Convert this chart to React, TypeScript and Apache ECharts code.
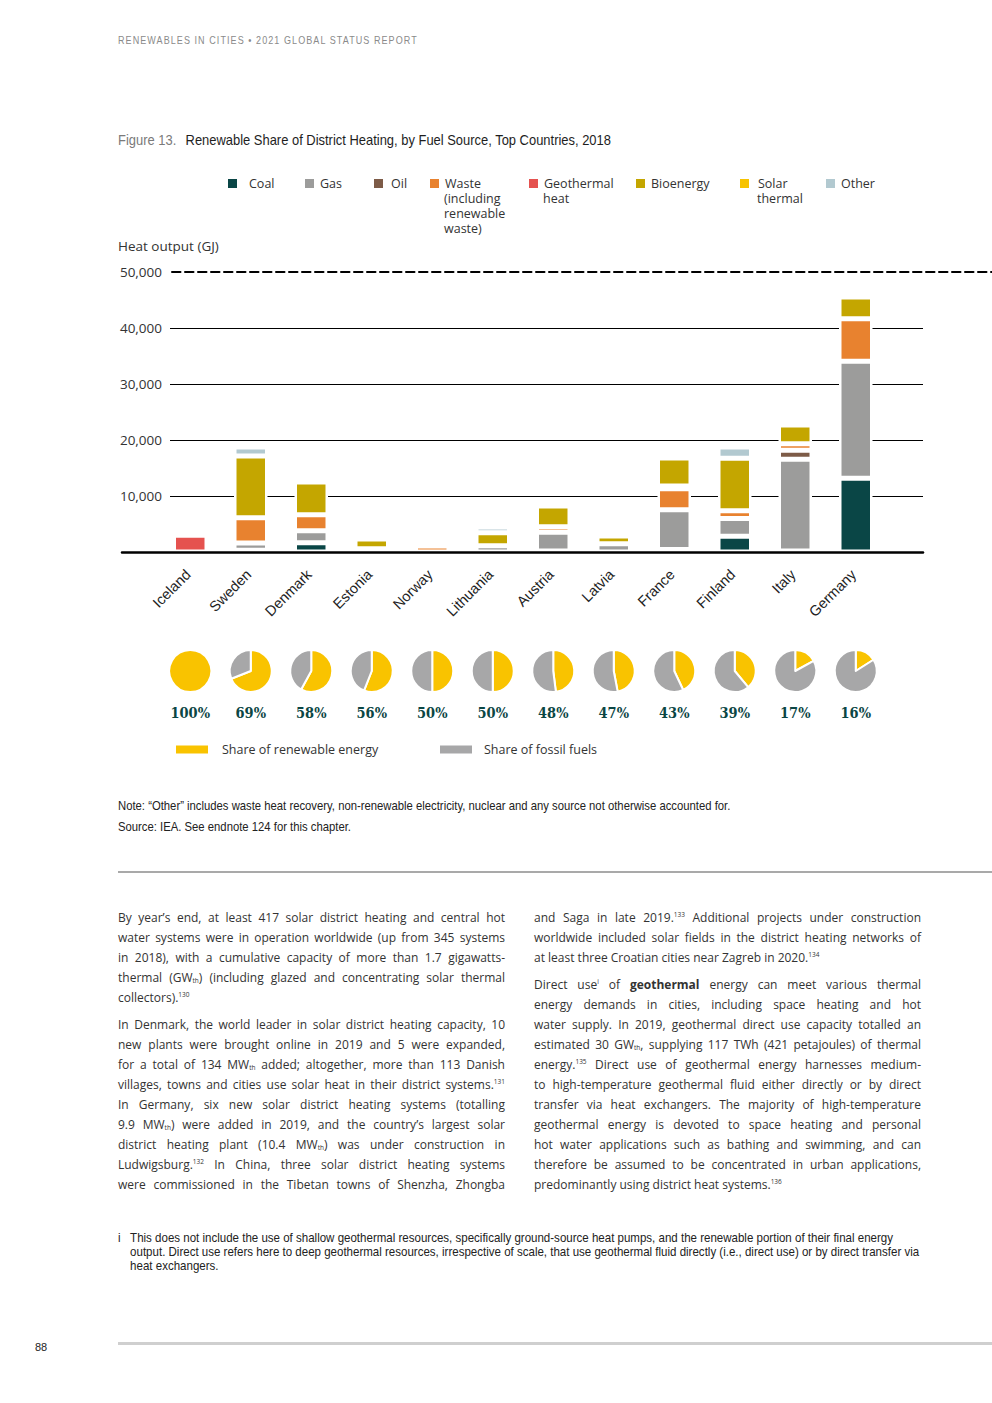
import React, { useEffect, useRef } from 'react';
import * as echarts from 'echarts';

// ---------- DATA ----------
const categories = ['Iceland', 'Sweden', 'Denmark', 'Estonia', 'Norway', 'Lithuania', 'Austria', 'Latvia', 'France', 'Finland', 'Italy', 'Germany'];

const coal = [0, 300, 1640, 0, 0, 0, 200, 0, 450, 2800, 200, 13190];
const gas = [0, 1300, 2150, 600, 0, 1110, 3320, 1460, 7090, 3200, 16360, 20870];
const oil = [0, 0, 0, 0, 0, 0, 0, 0, 0, 0, 1600, 0];
const waste = [0, 4520, 2850, 0, 1070, 0, 980, 0, 3750, 1360, 1160, 7590];
const geothermal = [2980, 0, 0, 0, 0, 0, 0, 0, 500, 0, 0, 0];
const bioenergy = [0, 11020, 5860, 1720, 700, 2320, 3720, 1400, 5000, 9370, 3370, 3890];
const solarThermal = [0, 0, 0, 0, 0, 0, 0, 0, 0, 0, 0, 0];
const other = [0, 1620, 0, 0, 910, 1040, 0, 0, 0, 2020, 0, 0];

const renewableShare = [100, 69, 58, 56, 50, 50, 48, 47, 43, 39, 17, 16];

const fuelNames = ['Coal', 'Gas', 'Oil', 'Waste (including renewable waste)', 'Geothermal heat', 'Bioenergy', 'Solar thermal', 'Other'];
const fuelLegendLines = [['Coal'], ['Gas'], ['Oil'], ['Waste', '(including', 'renewable', 'waste)'], ['Geothermal', 'heat'], ['Bioenergy'], ['Solar', 'thermal'], ['Other']];
const fuelValues = [coal, gas, oil, waste, geothermal, bioenergy, solarThermal, other];
const fuelColors = ['#0A4646', '#9C9C9B', '#7D5B47', '#E8822F', '#E5524F', '#C4A600', '#F7C300', '#B2C9D0'];

const pieNames = ['Share of renewable energy', 'Share of fossil fuels'];
const pieColors = ['#F9C300', '#A7A7A8'];

const yMax = 50000;
const yStep = 10000;

// ---------- STYLE ----------
const SANS = "'Open Sans', 'Noto Sans', sans-serif";
const NARROW = "'Liberation Sans Narrow', 'Liberation Sans', Arial, sans-serif";

const legendLefts = [226, 303, 372, 428, 527, 634, 738, 824];
const legendPadLeft = [6, 0, 2, 0, 0, 0, 3, 0];
const legendTop = 177;
const legendLine = 15;

function buildOption(xs: number[] | null) {
  const barSeries = fuelNames.map((name, i) => ({
    type: 'bar',
    name,
    stack: 'total',
    xAxisIndex: 0,
    yAxisIndex: 0,
    barWidth: 33.5,
    itemStyle: { color: fuelColors[i], borderColor: '#ffffff', borderWidth: 2.5 },
    emphasis: { disabled: true },
    data: fuelValues[i].map((v) => (v > 0 ? v : null)),
  }));

  const pieSeries = xs
    ? renewableShare.map((p, i) => ({
        type: 'pie',
        name: categories[i] + ' share',
        center: [xs[i], 671],
        radius: 21,
        startAngle: 90,
        clockwise: true,
        silent: true,
        label: { show: false },
        labelLine: { show: false },
        itemStyle: { borderColor: '#ffffff', borderWidth: 2 },
        data: [
          { name: pieNames[0], value: p, itemStyle: { color: pieColors[0] } },
          ...(100 - p > 0 ? [{ name: pieNames[1], value: 100 - p, itemStyle: { color: pieColors[1] } }] : []),
        ],
      }))
    : [];

  const fuelLegends = fuelNames.map((name, i) => ({
    data: [name],
    left: legendLefts[i],
    top: legendTop,
    padding: 0,
    icon: 'rect',
    itemWidth: 11,
    itemHeight: 11,
    selectedMode: false,
    formatter: () => fuelLegendLines[i][0],
    textStyle: {
      fontFamily: SANS,
      fontSize: 12.5,
      color: '#333',
      padding: [0, 0, 0, legendPadLeft[i]],
    },
  }));

  const pieLegends = [
    { name: pieNames[0], left: 174, pad: 8 },
    { name: pieNames[1], left: 438, pad: 6 },
  ].map((l) => ({
    data: [l.name],
    left: l.left,
    top: 743,
    padding: 0,
    icon: 'rect',
    itemWidth: 34,
    itemHeight: 10,
    selectedMode: false,
    textStyle: { fontFamily: SANS, fontSize: 12.5, color: '#333', padding: [0, 0, 0, l.pad] },
  }));

  const graphics: any[] = [
    {
      type: 'text',
      x: 118,
      y: 140,
      scaleX: 0.925,
      style: {
        text: '{a|Figure 13.}   {b|Renewable Share of District Heating, by Fuel Source, Top Countries, 2018}',
        verticalAlign: 'middle',
        rich: {
          a: { fontFamily: NARROW, fontSize: 14, fill: '#7a7a7a' },
          b: { fontFamily: NARROW, fontSize: 14, fill: '#1e1e1e' },
        },
      },
    },
    {
      type: 'text',
      x: 118,
      y: 246,
      style: { text: 'Heat output (GJ)', fill: '#333', font: `13.5px ${SANS}`, verticalAlign: 'middle' },
    },
    {
      type: 'text',
      x: 118,
      y: 806,
      scaleX: 0.92,
      style: {
        text: 'Note: “Other” includes waste heat recovery, non-renewable electricity, nuclear and any source not otherwise accounted for.',
        fill: '#222',
        font: `12.3px ${NARROW}`,
        verticalAlign: 'middle',
      },
    },
    {
      type: 'text',
      x: 118,
      y: 827,
      scaleX: 0.92,
      style: { text: 'Source: IEA. See endnote 124 for this chapter.', fill: '#222', font: `12.3px ${NARROW}`, verticalAlign: 'middle' },
    },
  ];

  // continuation lines of the multi-line legend labels
  fuelLegendLines.forEach((lines, i) => {
    if (lines.length < 2) return;
    graphics.push({
      type: 'text',
      x: legendLefts[i] + 11 + 5 + legendPadLeft[i],
      y: legendTop + 5.5 + legendLine / 2 + 0.5,
      style: {
        text: lines.slice(1).join('\n'),
        fill: '#333',
        font: `12.5px ${SANS}`,
        lineHeight: legendLine,
        verticalAlign: 'top',
      },
    });
  });

  if (xs) {
    renewableShare.forEach((p, i) => {
      graphics.push({
        type: 'text',
        x: xs[i],
        y: 713,
        scaleX: 0.84,
        style: {
          text: p + '%',
          fill: '#0B4644',
          font: "bold 15.5px 'DejaVu Serif', serif",
          align: 'center',
          verticalAlign: 'middle',
        },
      });
    });
  }

  return {
    animation: false,
    legend: [...fuelLegends, ...pieLegends],
    grid: [
      { left: 160, width: 726, top: 272, height: 280 },
      { left: 170, right: 69, top: 272, height: 280 },
      { left: 122, right: 69, top: 272, height: 280 },
      { left: 172, right: 0, top: 272, height: 280 },
    ],
    xAxis: [
      {
        type: 'category',
        gridIndex: 0,
        data: categories,
        axisLine: { show: false },
        axisTick: { show: false },
        axisLabel: {
          interval: 0,
          rotate: 45,
          margin: 18,
          padding: [0, 3, 0, 0],
          fontFamily: "'Liberation Sans', Arial, sans-serif",
          fontSize: 14.5,
          color: '#222',
        },
      },
      { type: 'value', gridIndex: 1, show: false },
      {
        type: 'value',
        gridIndex: 2,
        z: 5,
        axisLine: { show: true, onZero: false, lineStyle: { color: '#000', width: 2.5 } },
        axisTick: { show: false },
        axisLabel: { show: false },
        splitLine: { show: false },
      },
      {
        type: 'value',
        gridIndex: 3,
        position: 'top',
        axisLine: { show: true, onZero: false, lineStyle: { color: '#000', width: 2, type: [8.5, 4.5] } },
        axisTick: { show: false },
        axisLabel: { show: false },
        splitLine: { show: false },
      },
    ],
    yAxis: [
      { type: 'value', gridIndex: 0, min: 0, max: yMax, interval: yStep, show: false },
      {
        type: 'value',
        gridIndex: 1,
        min: 0,
        max: yMax,
        interval: yStep,
        axisLine: { show: false },
        axisTick: { show: false },
        axisLabel: {
          showMinLabel: false,
          margin: 8,
          fontFamily: SANS,
          fontSize: 13.5,
          color: '#333',
          formatter: (v: number) => v.toLocaleString('en-US'),
        },
        splitLine: {
          show: true,
          lineStyle: { color: ['#000', '#000', '#000', '#000', '#000', 'rgba(0,0,0,0)'], width: 1.2 },
        },
      },
      { type: 'value', gridIndex: 2, min: 0, max: yMax, show: false },
      { type: 'value', gridIndex: 3, min: 0, max: yMax, show: false },
    ],
    graphic: graphics,
    series: [...barSeries, ...pieSeries],
  };
}

function Chart() {
  const ref = useRef<HTMLDivElement>(null);
  useEffect(() => {
    if (!ref.current) return;
    const chart = echarts.init(ref.current, null, { renderer: 'svg' });
    chart.setOption(buildOption(null) as any);
    const xs = categories.map((c) => chart.convertToPixel({ xAxisIndex: 0 }, c) as number);
    chart.setOption(buildOption(xs) as any, { notMerge: true });
    return () => chart.dispose();
  }, []);
  return <div ref={ref} style={{ position: 'absolute', left: 0, top: 0, width: 992, height: 860 }} />;
}

// ---------- BODY TEXT ----------
type Line = { html: string; last?: boolean; gap?: boolean };

const sup = (s: string) => `<sup style="font-size:6.5px;line-height:0;vertical-align:5px">${s}</sup>`;
const sub = (s: string) => `<sub style="font-size:6.5px;line-height:0;vertical-align:-1px">${s}</sub>`;

const leftLines: Line[] = [
  { html: 'By year’s end, at least 417 solar district heating and central hot' },
  { html: 'water systems were in operation worldwide (up from 345 systems' },
  { html: 'in 2018), with a cumulative capacity of more than 1.7 gigawatts-' },
  { html: `thermal (GW${sub('th')}) (including glazed and concentrating solar thermal` },
  { html: `collectors).${sup('130')}`, last: true },
  { html: 'In Denmark, the world leader in solar district heating capacity, 10', gap: true },
  { html: 'new plants were brought online in 2019 and 5 were expanded,' },
  { html: `for a total of 134 MW${sub('th')} added; altogether, more than 113 Danish` },
  { html: `villages, towns and cities use solar heat in their district systems.${sup('131')}` },
  { html: 'In Germany, six new solar district heating systems (totalling' },
  { html: `9.9 MW${sub('th')}) were added in 2019, and the country’s largest solar` },
  { html: `district heating plant (10.4 MW${sub('th')}) was under construction in` },
  { html: `Ludwigsburg.${sup('132')} In China, three solar district heating systems` },
  { html: 'were commissioned in the Tibetan towns of Shenzha, Zhongba' },
];

const rightLines: Line[] = [
  { html: `and Saga in late 2019.${sup('133')} Additional projects under construction` },
  { html: 'worldwide included solar fields in the district heating networks of' },
  { html: `at least three Croatian cities near Zagreb in 2020.${sup('134')}`, last: true },
  { html: `Direct use${sup('i')} of <b>geothermal</b> energy can meet various thermal`, gap: true },
  { html: 'energy demands in cities, including space heating and hot' },
  { html: 'water supply. In 2019, geothermal direct use capacity totalled an' },
  { html: `estimated 30 GW${sub('th')}, supplying 117 TWh (421 petajoules) of thermal` },
  { html: `energy.${sup('135')} Direct use of geothermal energy harnesses medium-` },
  { html: 'to high-temperature geothermal fluid either directly or by direct' },
  { html: 'transfer via heat exchangers. The majority of high-temperature' },
  { html: 'geothermal energy is devoted to space heating and personal' },
  { html: 'hot water applications such as bathing and swimming, and can' },
  { html: 'therefore be assumed to be concentrated in urban applications,' },
  { html: `predominantly using district heat systems.${sup('136')}`, last: true },
];

const footLines = [
  'This does not include the use of shallow geothermal resources, specifically ground-source heat pumps, and the renewable portion of their final energy',
  'output. Direct use refers here to deep geothermal resources, irrespective of scale, that use geothermal fluid directly (i.e., direct use) or by direct transfer via',
  'heat exchangers.',
];

function Column({ lines, left }: { lines: Line[]; left: number }) {
  return (
    <div style={{ position: 'absolute', left, top: 908, width: 387, fontFamily: "'Open Sans', Lato, sans-serif", fontSize: 12, color: '#333', lineHeight: '20px' }}>
      {lines.map((l, i) => (
        <div
          key={i}
          style={{
            height: 20,
            marginTop: l.gap ? 7 : 0,
            textAlign: l.last ? 'left' : 'justify',
            textAlignLast: l.last ? 'left' : 'justify',
            whiteSpace: 'nowrap',
          } as any}
          dangerouslySetInnerHTML={{ __html: l.html }}
        />
      ))}
    </div>
  );
}

export default function App() {
  return (
    <div style={{ position: 'absolute', left: 0, top: 0, width: 992, height: 1403, background: '#fff', overflow: 'hidden' }}>
      <Chart />
      <div
        style={{
          position: 'absolute',
          left: 118,
          top: 34,
          fontFamily: NARROW,
          fontSize: 11,
          letterSpacing: 1.3,
          color: '#8a8a8a',
          transform: 'scaleX(0.82)',
          transformOrigin: 'left top',
          whiteSpace: 'nowrap',
        }}
      >
        RENEWABLES IN CITIES • 2021 GLOBAL STATUS REPORT
      </div>
      <div style={{ position: 'absolute', left: 118, top: 871, width: 874, height: 2, background: '#a9a9a9' }} />
      <Column lines={leftLines} left={118} />
      <Column lines={rightLines} left={534} />
      <div
        style={{
          position: 'absolute',
          left: 118,
          top: 1231,
          fontFamily: NARROW,
          fontSize: 12.4,
          color: '#222',
          lineHeight: '14px',
          transform: 'scaleX(0.93)',
          transformOrigin: 'left top',
        }}
      >
        <div style={{ position: 'absolute', left: 0, top: 0 }}>i</div>
        <div style={{ position: 'absolute', left: 13, top: 0, whiteSpace: 'nowrap' }}>
          {footLines.map((t, i) => (
            <div key={i}>{t}</div>
          ))}
        </div>
      </div>
      <div style={{ position: 'absolute', left: 118, top: 1342, width: 874, height: 3, background: '#cfcfcf' }} />
      <div style={{ position: 'absolute', left: 35, top: 1341, fontFamily: NARROW, fontSize: 11, color: '#222' }}>88</div>
    </div>
  );
}
